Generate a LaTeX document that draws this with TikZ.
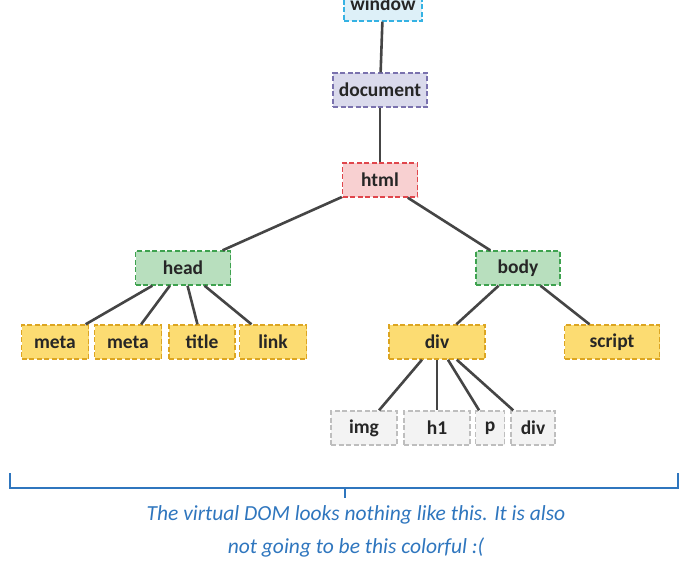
\documentclass[tikz,border=0pt]{standalone}
\usepackage{fontspec}
\setmainfont{Carlito}
\usetikzlibrary{positioning}
\definecolor{edgegray}{HTML}{454545}
\definecolor{winfill}{HTML}{DDF0F8}
\definecolor{windraw}{HTML}{35B2E3}
\definecolor{docfill}{HTML}{DADAEC}
\definecolor{docdraw}{HTML}{7A72AE}
\definecolor{htmlfill}{HTML}{F8D0D1}
\definecolor{htmldraw}{HTML}{E0464C}
\definecolor{grnfill}{HTML}{B8DFBE}
\definecolor{grndraw}{HTML}{3EA24F}
\definecolor{ylwfill}{HTML}{FCDC72}
\definecolor{ylwdraw}{HTML}{DCA521}
\definecolor{gryfill}{HTML}{F3F3F3}
\definecolor{grydraw}{HTML}{BEBEBE}
\definecolor{capblue}{HTML}{2F76BE}
\tikzset{
  tag/.style={rectangle, dashed, dash pattern=on 5pt off 2.5pt, line width=1.4pt,
    minimum height=34pt, inner sep=0pt, font=\fontsize{19.5}{22}\selectfont\bfseries, text=black!85},
  wintag/.style={tag, fill=winfill, draw=windraw},
  doctag/.style={tag, fill=docfill, draw=docdraw},
  htmltag/.style={tag, fill=htmlfill, draw=htmldraw},
  grntag/.style={tag, fill=grnfill, draw=grndraw},
  ylwtag/.style={tag, fill=ylwfill, draw=ylwdraw},
  grytag/.style={tag, fill=gryfill, draw=grydraw},
  link/.style={draw=edgegray, line width=2.6pt}
}
\begin{document}
\begin{tikzpicture}[x=1pt, y=-1pt]
\useasboundingbox (0,0) rectangle (684,566);
\clip (0,0) rectangle (684,566);
\node[wintag, minimum width=78pt] (win) at (383,4){window};
\node[doctag, minimum width=94pt] (doc) at (380,90){document};
\node[htmltag, minimum width=75pt] (html) at (380,180){html};
\draw[link](win) -- (doc);
\draw[link](doc) -- (html);
\node[grntag, minimum width=95pt] (head) at (183,268){head};
\node[grntag, minimum width=84pt] (body) at (518,268){body};
\draw[link](html) -- (head);
\draw[link](html) -- (body);
\node[ylwtag, minimum width=67pt] (meta1) at (55,342){meta};
\node[ylwtag, minimum width=67pt] (meta2) at (128,342){meta};
\node[ylwtag, minimum width=66pt] (title) at (202,342){title};
\node[ylwtag, minimum width=67pt] (lnk) at (273,342){link};
\draw[link](head) -- (meta1);
\draw[link](head) -- (meta2);
\draw[link](head) -- (title);
\draw[link](head) -- (lnk);
\node[ylwtag, minimum width=96pt] (div) at (437,342){div};
\node[ylwtag, minimum width=95pt] (script) at (612,342){script};
\draw[link](body) -- (div);
\draw[link](body) -- (script);
\node[grytag, minimum width=66pt] (img) at (364,428){img};
\node[grytag, minimum width=66pt] (hone) at (437,428){h1};
\node[grytag, minimum width=29pt] (para) at (490,428){p};
\node[grytag, minimum width=44pt] (subdiv) at (533,428){div};
\draw[link](div) -- (img);
\draw[link](div) -- (hone);
\draw[link](div) -- (para);
\draw[link](div) -- (subdiv);
% bracket under the tree
\coordinate (brl) at (10,473);
\coordinate (brr) at (678,473);
\coordinate (brm) at (345,488);
\draw[capblue, line width=1.8pt] (brl) |- (brr |- brm) -- (brr);
\draw[capblue, line width=1.8pt] (brm) -- ++(0,10) coordinate (brtip);
\node[text=capblue, font=\fontsize{21.5}{33}\selectfont\itshape, align=center, anchor=north] (caption) at (356,502)
  {The virtual DOM looks nothing like this. It is also\\ not going to be this colorful :(};
\end{tikzpicture}
\end{document}
